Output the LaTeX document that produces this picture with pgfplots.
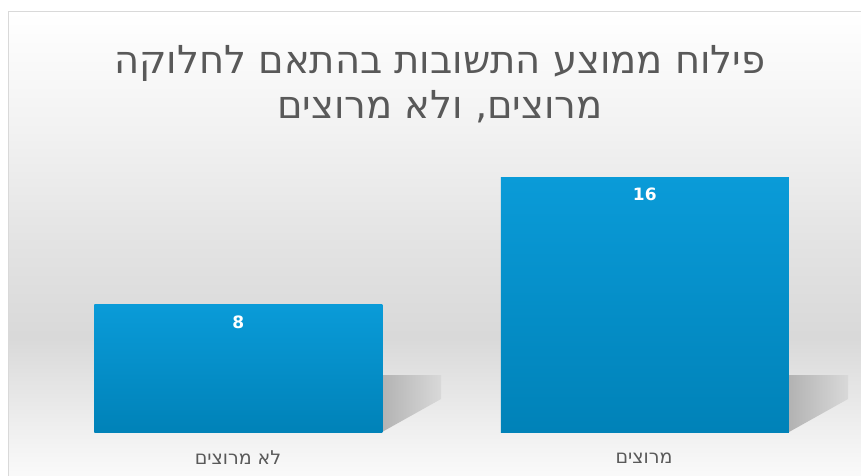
\documentclass[border=0pt]{standalone}
\usepackage{pgfplots}
\pgfplotsset{compat=1.18}
\usepackage{fontspec}
\setmainfont{DejaVu Sans}
\newfontfamily\hebfont[Script=Hebrew]{DejaVu Sans}
\TeXXeTstate=1
\definecolor{txtgray}{HTML}{595959}
\definecolor{bartop}{HTML}{0A9BD8}
\definecolor{barbot}{HTML}{0082B8}
\pgfdeclareverticalshading{bgshade}{100bp}{
  color(0bp)=(white!98!black);
  color(25bp)=(white!98!black);
  color(30bp)=(white!94!black);
  color(40bp)=(white!85!black);
  color(50bp)=(white!89!black);
  color(62.5bp)=(white!95!black);
  color(75bp)=(white);
  color(100bp)=(white)}
\begin{document}
\begin{tikzpicture}[x=1pt,y=1pt]
\path[use as bounding box] (0,0) rectangle (861,475);
\shade[shading=bgshade, draw=white!85!black, line width=0.8pt] (8,-2) rectangle (870,464);
% soft shadows behind the bars
\shade[left color=white!70!black, right color=white!85!black] (382,43) -- (382,100) -- (441,100) -- (441,76) -- cycle;
\shade[left color=white!70!black, right color=white!85!black] (789,43) -- (789,100) -- (848,100) -- (848,76) -- cycle;
\node[text=txtgray, font=\hebfont\fontsize{38.5}{45}\selectfont, align=center] at (440,391)
  {\beginR פילוח ממוצע התשובות בהתאם לחלוקה\endR\\\beginR מרוצים, ולא מרוצים\endR};
\begin{axis}[
  at={(35pt,43pt)}, anchor=south west,
  scale only axis, width=813pt, height=278pt,
  xmin=-0.5, xmax=1.5, ymin=0, ymax=17.5,
  axis lines=none,
  clip=false,
  ybar, bar width=288pt, bar shift=0pt,
  nodes near coords={\textbf{\pgfmathprintnumber[assume math mode=true]{\pgfplotspointmeta}}},
  nodes near coords style={anchor=north, yshift=-7pt, text=white, font=\fontsize{17}{20}\selectfont},
]
\addplot[ybar, draw=none, top color=bartop, bottom color=barbot] coordinates {(0,8)};
\addplot[ybar, draw=none, top color=bartop, bottom color=barbot] coordinates {(1,16)};
\end{axis}
\node[text=txtgray, font=\hebfont\fontsize{19}{22}\selectfont] at (238,17) {\beginR לא מרוצים\endR};
\node[text=txtgray, font=\hebfont\fontsize{19}{22}\selectfont] at (644,17) {\beginR מרוצים\endR};
\end{tikzpicture}
\end{document}
